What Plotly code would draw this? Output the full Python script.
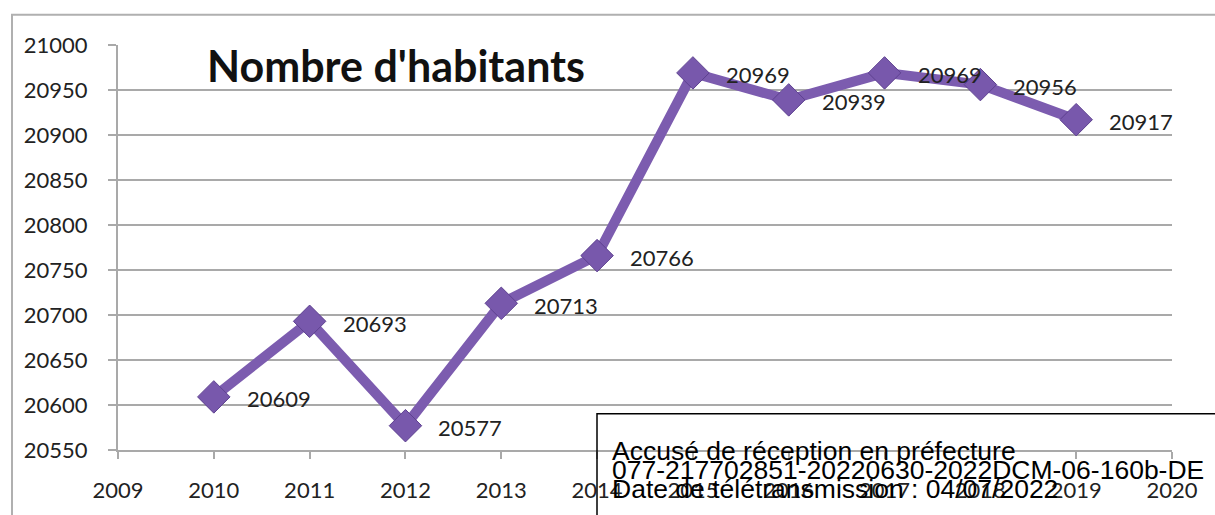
import plotly.graph_objects as go

# Population by year
years = [2010, 2011, 2012, 2013, 2014, 2015, 2016, 2017, 2018, 2019]
habitants = [20609, 20693, 20577, 20713, 20766, 20969, 20939, 20969, 20956, 20917]

title_text = "Nombre d'habitants"
stamp_lines = [
    "Accusé de réception en préfecture",
    "077-217702851-20220630-2022DCM-06-160b-DE",
    "Date de télétransmission : 04/07/2022",
]

W, H = 1215, 515
ML, MR, MT, MB = 118, 43, 45, 56
PW, PH = W - ML - MR, H - MT - MB


def px_x(px):
    return (px - ML) / PW


def px_y(py):
    return (H - MB - py) / PH


purple = "#7C5CAF"
grid = "#a9a9a9"
label_font = dict(family="Lato, Carlito, Calibri, sans-serif", size=22, color="#222222")

fig = go.Figure()
fig.add_trace(go.Scatter(
    x=years, y=habitants, mode="lines+markers",
    line=dict(color=purple, width=10),
    marker=dict(symbol="diamond", size=25, color="#7858AC",
                line=dict(color="#5E4190", width=1)),
    hoverinfo="x+y", showlegend=False,
))

# value labels to the right of each point
for x, y in zip(years, habitants):
    fig.add_annotation(x=x, y=y, text=str(y), showarrow=False,
                       xanchor="left", yanchor="middle", xshift=31, yshift=-2,
                       font=label_font)

# chart title inside the plot area
fig.add_annotation(xref="paper", yref="paper", x=px_x(205), y=px_y(66),
                   text="<b>" + title_text + "</b>", showarrow=False,
                   xanchor="left", yanchor="middle",
                   font=dict(family="Lato, Carlito, Calibri, sans-serif", size=43, color="#111111"))

# outer chart frame
fig.add_shape(type="rect", xref="paper", yref="paper",
              x0=px_x(12), x1=px_x(1260), y0=px_y(560), y1=px_y(14),
              line=dict(color="#b0b0b0", width=2), fillcolor="rgba(0,0,0,0)", layer="below")

# reception stamp box
fig.add_shape(type="rect", xref="paper", yref="paper",
              x0=px_x(597), x1=px_x(1260), y0=px_y(560), y1=px_y(422),
              line=dict(color="#000000", width=1.5), fillcolor="rgba(0,0,0,0)", layer="above")
for line, py in zip(stamp_lines, [460, 479, 499]):
    fig.add_annotation(xref="paper", yref="paper", x=px_x(610), y=px_y(py),
                       text=line, showarrow=False, xanchor="left", yanchor="middle",
                       font=dict(family="Liberation Sans, Arial, sans-serif", size=26.5, color="#000000"))

fig.update_layout(
    width=W, height=H, autosize=False,
    margin=dict(l=ML, r=MR, t=MT, b=MB, pad=0),
    paper_bgcolor="white", plot_bgcolor="white",
    xaxis=dict(range=[2009, 2020], dtick=1, tick0=2009, showgrid=False,
               showline=True, linecolor=grid, linewidth=2,
               ticks="outside", ticklen=7, tickwidth=1.5, tickcolor=grid,
               ticklabelstandoff=13, tickfont=label_font, zeroline=False),
    yaxis=dict(range=[20550, 21000], dtick=50, tick0=20550, showgrid=True,
               gridcolor=grid, gridwidth=2, tickformat="d",
               showline=True, linecolor=grid, linewidth=2,
               ticks="outside", ticklen=8, tickwidth=2, tickcolor=grid,
               ticklabelstandoff=16, tickfont=label_font, zeroline=False),
)

fig.write_html("out.html")
